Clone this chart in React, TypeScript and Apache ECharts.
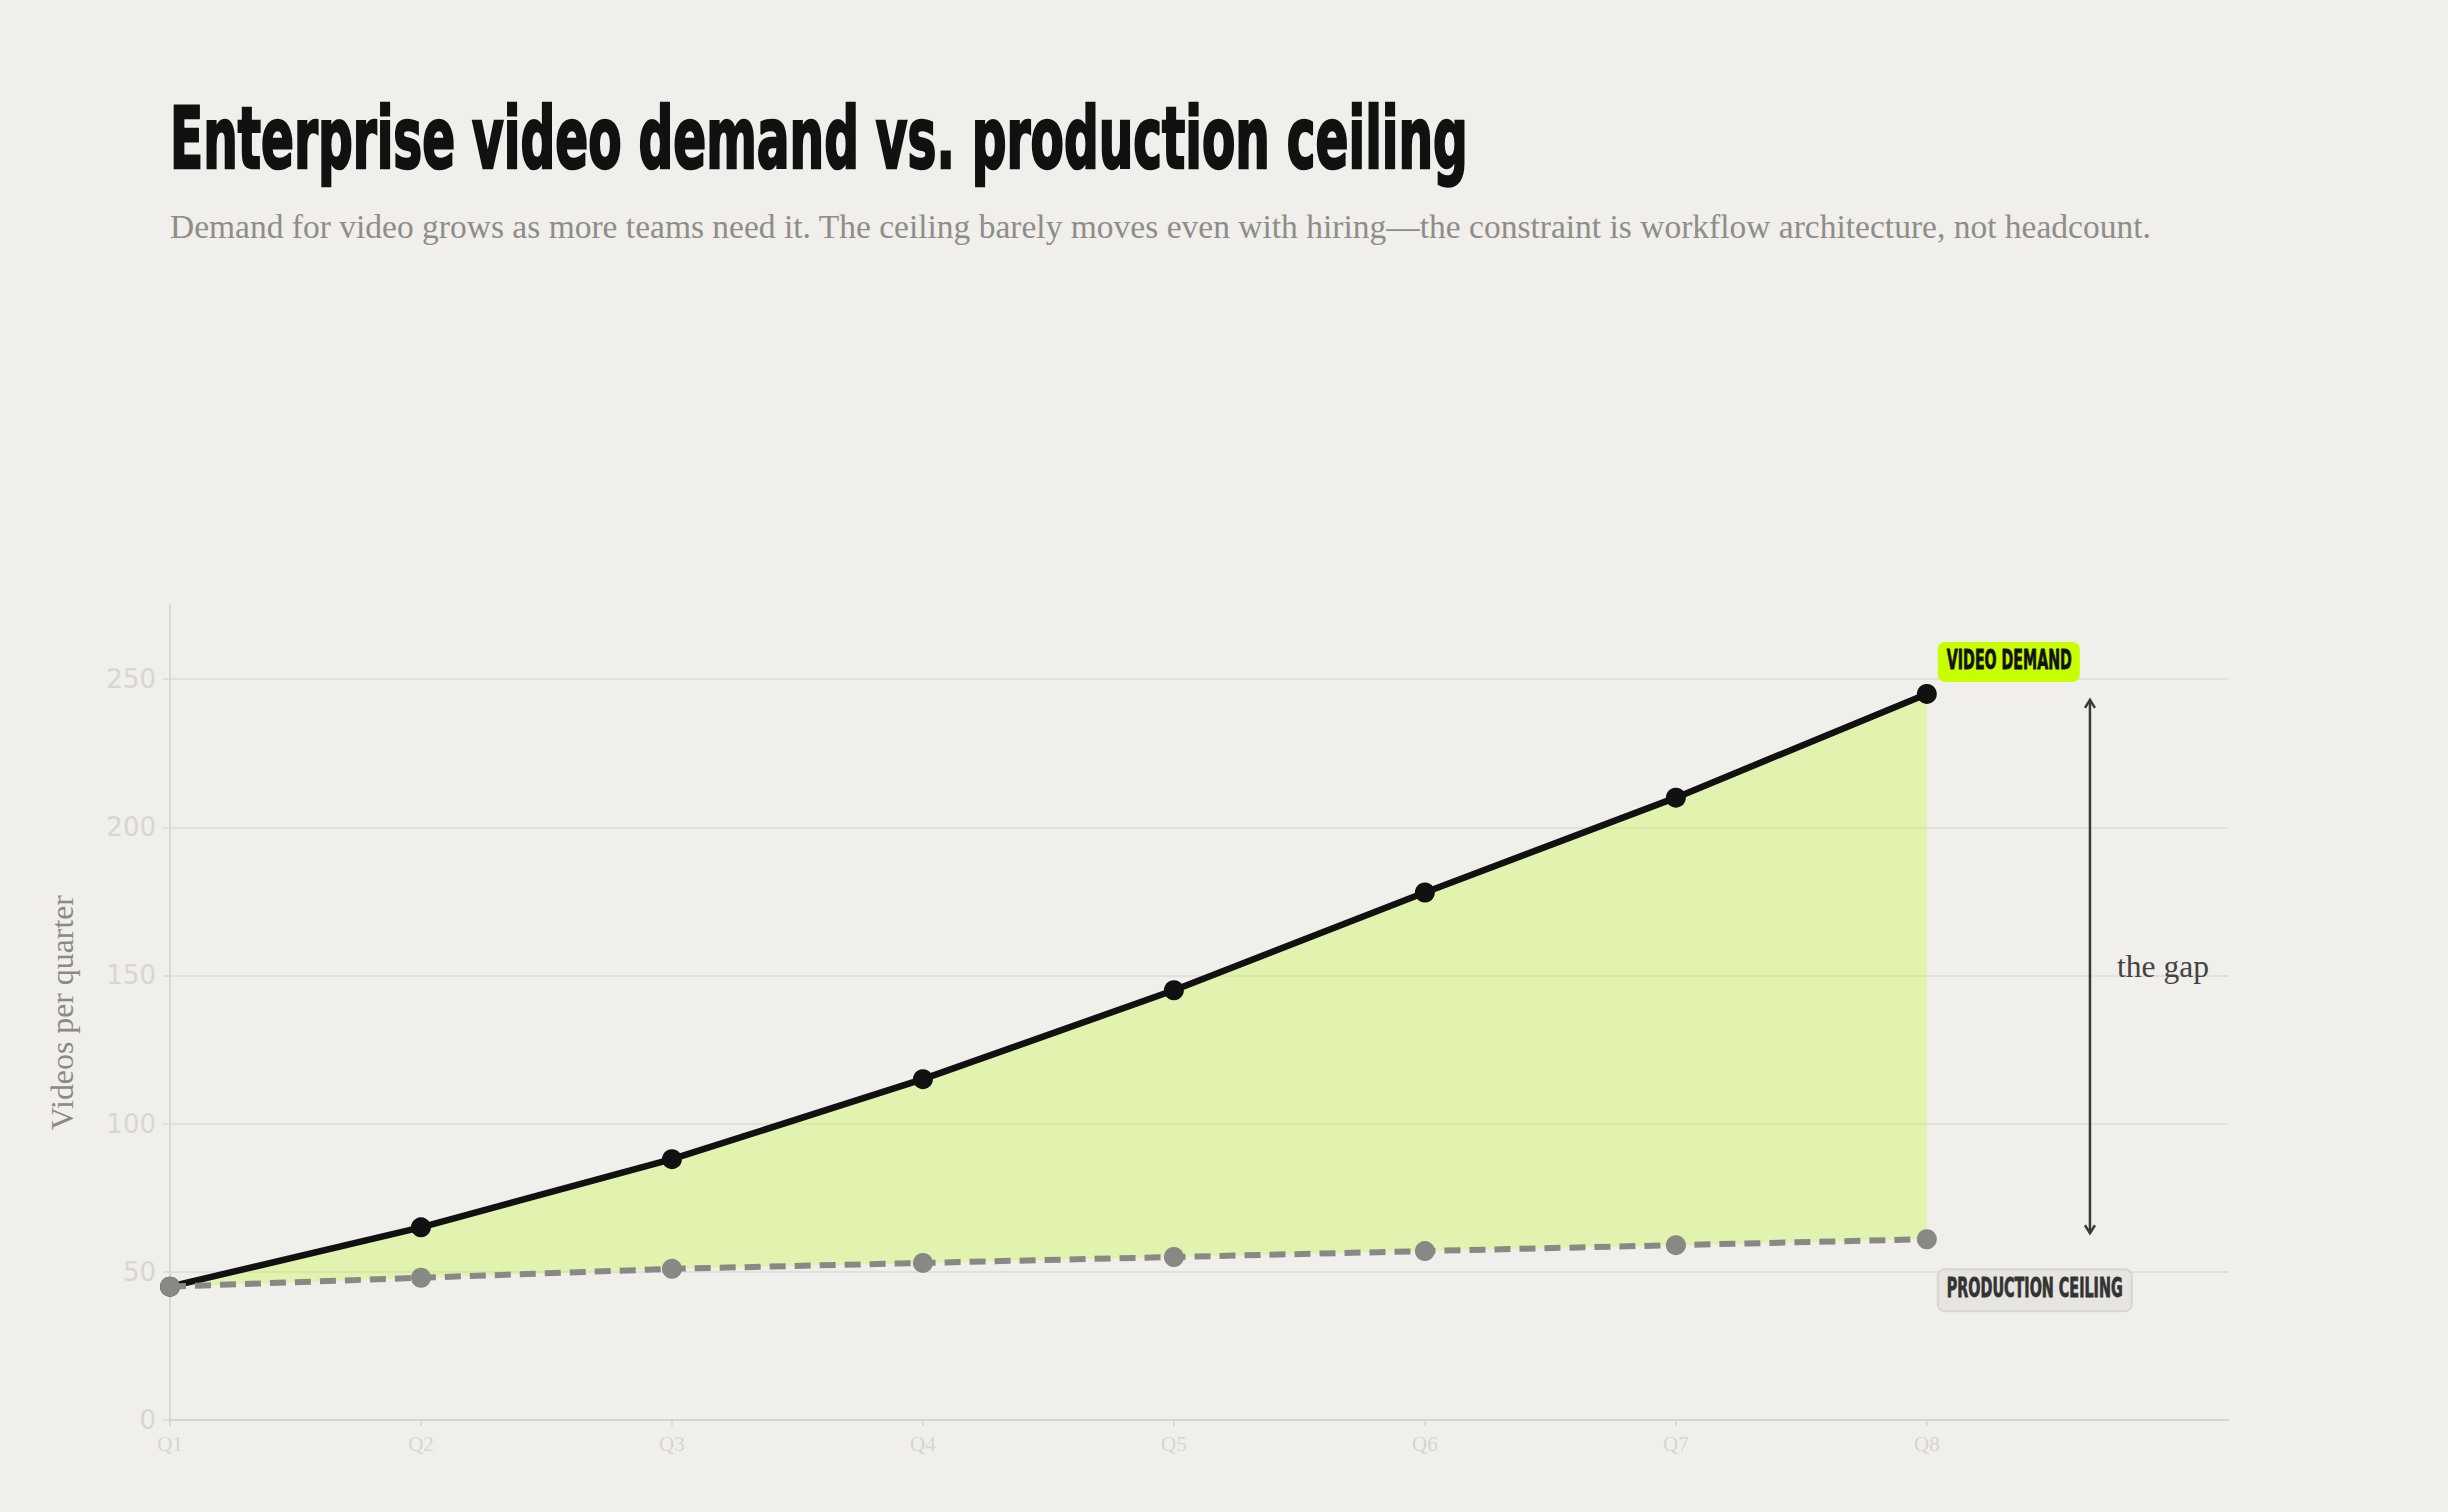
import React, { useEffect, useRef } from 'react';
import * as echarts from 'echarts';

const quarters = ['Q1', 'Q2', 'Q3', 'Q4', 'Q5', 'Q6', 'Q7', 'Q8'];
const demand = [45, 65, 88, 115, 145, 178, 210, 245];
const ceiling = [45, 48, 51, 53, 55, 57, 59, 61];
const yTicks = [0, 50, 100, 150, 200, 250];

const TITLE = 'Enterprise video demand vs. production ceiling';
const SUBTITLE =
  'Demand for video grows as more teams need it. The ceiling barely moves even with hiring\u2014the constraint is workflow architecture, not headcount.';
const Y_NAME = 'Videos per quarter';
const DEMAND_LABEL = 'VIDEO DEMAND';
const CEILING_LABEL = 'PRODUCTION CEILING';
const GAP_LABEL = 'the gap';

const CONDENSED = 'DejaVu Sans Condensed';
const SERIF = 'Liberation Serif';
const SANS = 'DejaVu Sans';

export default function App() {
  const ref = useRef<HTMLDivElement>(null);

  useEffect(() => {
    document.body.style.margin = '0';
    const chart = echarts.init(ref.current!, null, { renderer: 'svg', width: 2448, height: 1512 });

    const ctx = document.createElement('canvas').getContext('2d')!;
    const measure = (text: string, weight: string, size: number, family: string) => {
      ctx.font = `${weight} ${size}px "${family}"`;
      return ctx.measureText(text).width;
    };
    const fitSize = (text: string, weight: string, family: string, target: number) =>
      (100 * target) / measure(text, weight, 100, family);
    const scaleFor = (text: string, weight: string, size: number, family: string, target: number) =>
      target / measure(text, weight, size, family);

    const idx = quarters.map((_, i) => i);

    const option: any = {
      animation: false,
      backgroundColor: '#f0efeb',
      grid: { left: 170, right: 220, top: 605, bottom: 92, containLabel: false },
      xAxis: {
        type: 'value',
        min: 0,
        max: 8.2,
        axisLine: { show: true, lineStyle: { color: '#d6d5d0', width: 2 } },
        axisTick: { show: true, customValues: idx, length: 6, lineStyle: { color: '#d6d5d0', width: 1.5 } },
        axisLabel: {
          customValues: idx,
          formatter: (v: number) => quarters[Math.round(v)] ?? '',
          color: '#d6d5d0',
          fontFamily: SERIF,
          fontSize: 21,
          margin: 13,
        },
        splitLine: { show: false },
      },
      yAxis: {
        type: 'value',
        min: 0,
        max: 275,
        interval: 50,
        name: Y_NAME,
        nameLocation: 'middle',
        nameRotate: 90,
        nameGap: 92,
        nameTextStyle: {
          color: '#8b8a85',
          fontFamily: SERIF,
          fontSize: fitSize(Y_NAME, 'normal', SERIF, 235),
        },
        axisLine: { show: true, lineStyle: { color: '#dad9d4', width: 2 } },
        axisTick: { show: true, customValues: yTicks, length: 7, lineStyle: { color: '#dad9d4', width: 1.5 } },
        axisLabel: { customValues: yTicks, color: '#d7d6d1', fontFamily: SANS, fontSize: 26, margin: 14 },
        splitLine: {
          show: true,
          showMinLine: false,
          lineStyle: { color: '#dddcd7', width: 1.5 },
        },
      },
      series: [
        {
          type: 'custom',
          name: 'gap',
          silent: true,
          z: 1,
          data: idx.map((i) => [i, demand[i], ceiling[i]]),
          renderItem: (params: any, api: any) => {
            if (params.dataIndex !== 0) return { type: 'group', children: [] };
            const top = idx.map((i) => api.coord([i, demand[i]]));
            const bottom = idx.map((i) => api.coord([i, ceiling[i]])).reverse();
            return {
              type: 'polygon',
              shape: { points: top.concat(bottom) },
              style: { fill: 'rgba(197,249,38,0.3)' },
            };
          },
        },
        {
          type: 'line',
          name: 'Video demand',
          z: 3,
          data: idx.map((i) => [i, demand[i]]),
          symbol: 'circle',
          symbolSize: 20,
          itemStyle: { color: '#111111' },
          lineStyle: { color: '#111111', width: 6.5 },
        },
        {
          type: 'line',
          name: 'Production ceiling',
          z: 4,
          data: idx.map((i) => [i, ceiling[i]]),
          symbol: 'circle',
          symbolSize: 20,
          itemStyle: { color: '#888884' },
          lineStyle: { color: '#888884', width: 6, type: [16, 9] },
        },
      ],
    };

    chart.setOption(option);

    const last = quarters.length - 1;
    const pd = chart.convertToPixel({ gridIndex: 0 }, [last, demand[last]]) as number[];
    const pc = chart.convertToPixel({ gridIndex: 0 }, [last, ceiling[last]]) as number[];
    const arrowX = (chart.convertToPixel({ gridIndex: 0 }, [7.65, 0]) as number[])[0];
    const gapMid = (demand[last] + ceiling[last]) / 2;
    const pm = chart.convertToPixel({ gridIndex: 0 }, [7.65, gapMid]) as number[];

    const titleSize = 86;
    const titleScale = scaleFor(TITLE, 'bold', titleSize, CONDENSED, 1298);
    const subSize = fitSize(SUBTITLE, 'normal', SERIF, 1982);
    const gapSize = fitSize(GAP_LABEL, 'normal', SERIF, 92);

    const badgeSize = 26;
    const dScale = scaleFor(DEMAND_LABEL, 'bold', badgeSize, CONDENSED, 125);
    const cScale = scaleFor(CEILING_LABEL, 'bold', badgeSize, CONDENSED, 176);

    const aTop = pd[1] + 6;
    const aBot = pc[1] - 6;
    const arrowStyle = { stroke: '#3a3a3a', lineWidth: 2.5, fill: 'none' };

    chart.setOption({
      graphic: [
        {
          type: 'text',
          x: 170,
          y: 138,
          scaleX: titleScale,
          style: {
            text: TITLE,
            fontFamily: CONDENSED,
            fontWeight: 'bold',
            fontSize: titleSize,
            fill: '#111111',
            stroke: '#111111',
            lineWidth: 2.5,
            verticalAlign: 'middle',
            align: 'left',
          },
        },
        {
          type: 'text',
          x: 170,
          y: 226,
          style: {
            text: SUBTITLE,
            fontFamily: SERIF,
            fontSize: subSize,
            fill: '#8e8d88',
            verticalAlign: 'middle',
            align: 'left',
          },
        },
        {
          type: 'group',
          x: pd[0],
          y: pd[1],
          children: [
            {
              type: 'rect',
              shape: { x: 11, y: -52, width: 142, height: 40, r: 7 },
              style: { fill: '#c8ff00' },
            },
            {
              type: 'text',
              x: 20,
              y: -34,
              scaleX: dScale,
              style: {
                text: DEMAND_LABEL,
                fontFamily: CONDENSED,
                fontWeight: 'bold',
                fontSize: badgeSize,
                fill: '#111111',
                stroke: '#111111',
                lineWidth: 0.8,
                verticalAlign: 'middle',
                align: 'left',
              },
            },
          ],
        },
        {
          type: 'group',
          x: pc[0],
          y: pc[1],
          children: [
            {
              type: 'rect',
              shape: { x: 11, y: 30, width: 194, height: 42, r: 7 },
              style: { fill: '#e6e5e0', stroke: '#d6d5d0', lineWidth: 2 },
            },
            {
              type: 'text',
              x: 20,
              y: 49,
              scaleX: cScale,
              style: {
                text: CEILING_LABEL,
                fontFamily: CONDENSED,
                fontWeight: 'bold',
                fontSize: badgeSize,
                fill: '#333333',
                stroke: '#333333',
                lineWidth: 0.8,
                verticalAlign: 'middle',
                align: 'left',
              },
            },
          ],
        },
        {
          type: 'line',
          shape: { x1: arrowX, y1: aTop, x2: arrowX, y2: aBot },
          style: arrowStyle,
        },
        {
          type: 'polyline',
          shape: { points: [[arrowX - 5, aTop + 8], [arrowX, aTop], [arrowX + 5, aTop + 8]] },
          style: arrowStyle,
        },
        {
          type: 'polyline',
          shape: { points: [[arrowX - 5, aBot - 8], [arrowX, aBot], [arrowX + 5, aBot - 8]] },
          style: arrowStyle,
        },
        {
          type: 'text',
          x: arrowX + 27,
          y: pm[1],
          style: {
            text: GAP_LABEL,
            fontFamily: SERIF,
            fontSize: gapSize,
            fill: '#444444',
            verticalAlign: 'middle',
            align: 'left',
          },
        },
      ],
    });

    return () => {
      chart.dispose();
    };
  }, []);

  return (
    <div
      ref={ref}
      style={{ position: 'absolute', left: 0, top: 0, width: 2448, height: 1512, background: '#f0efeb' }}
    />
  );
}
